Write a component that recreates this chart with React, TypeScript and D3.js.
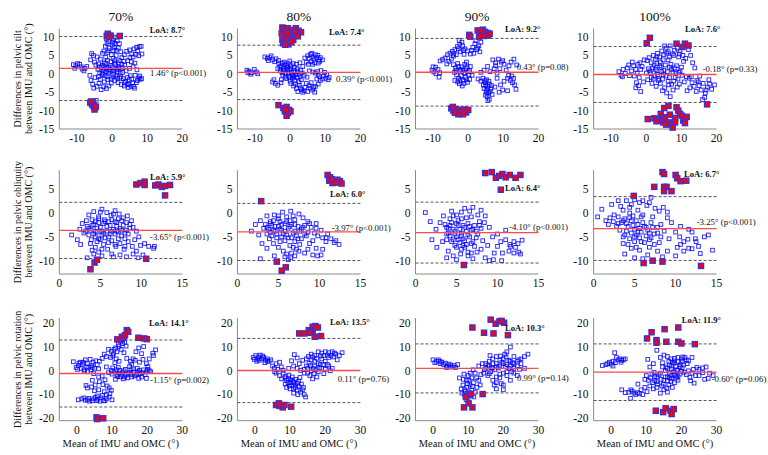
import React from 'react';
import * as d3 from 'd3';

// ---------- DATA ----------
const columnTitles = ['70%', '80%', '90%', '100%'];
const rowLabels = [
  ['Differences in pelvic tilt', 'between IMU and OMC (°)'],
  ['Differences in pelvic obliquity', 'between IMU and OMC (°)'],
  ['Differences in pelvic rotation', 'between IMU and OMC (°)'],
];
const xLabel = 'Mean of IMU and OMC (°)';
const xTicks = [[-10, 0, 10, 20], [0, 5, 10, 15], [0, 10, 20, 30]];
const yTicks = [[-15, -10, -5, 0, 5, 10], [-10, -5, 0, 5], [-20, -10, 0, 10, 20]];
const xDomains = [[-15, 20], [0, 15], [-5, 30]];
const yDomains = [[-15, 12.3], [-12.8, 9], [-21, 22.2]];
const meanBias = [[1.46, 0.39, 0.43, -0.18], [-3.65, -3.97, -4.10, -3.25], [-1.15, 0.11, 0.99, -0.60]];
const loaValues = [[8.7, 7.4, 9.2, 7.6], [5.9, 6.0, 6.4, 6.7], [14.1, 13.5, 10.3, 11.9]];
const pValues = [
  ['p<0.001', 'p<0.001', 'p=0.08', 'p=0.33'],
  ['p<0.001', 'p<0.001', 'p<0.001', 'p<0.001'],
  ['p=0.002', 'p=0.76', 'p=0.14', 'p=0.06'],
];

const tilt70 = [[-11,2.5],[-10.3,2.2],[-9.8,2.8],[-9.2,2.6],[-8.5,1.3],[-8,0.8],[-7.7,1.5],[-8.8,1.9],[-10.6,1.5],[-7.2,2.0],
[-5.8,5.5],[-5.3,5.0],[-4.2,4.6],[-3.3,4.0],[-5.0,3.2],[-2.7,5.6],[-4.6,2.4],[-3.8,2.7],[-6.1,3.8],[-2.2,3.0],[-1.8,4.5],
[-1.6,9.5],[-1.0,8.8],[-0.5,9.9],[0.3,9.2],[-1.9,7.5],[-0.8,7.0],[0.1,7.8],[0.8,8.3],[1.5,9.0],[-2.3,6.2],[-1.2,5.8],[0.5,6.3],[1.8,7.0],[-0.2,5.2],[1.2,5.0],[2.5,6.0],[-0.6,10.5],[0.9,10.0],[2.1,8.2],
[-4,1.2],[-3.5,0.3],[-3,1.8],[-2.5,0.8],[-2,-0.5],[-1.5,1.5],[-1,0.2],[-0.5,2.2],[0,1.0],[0.5,-0.3],[1,2.5],[1.5,0.6],[2,1.8],[2.5,-0.8],[3,0.4],[-1.8,2.8],[-0.3,3.3],[0.8,3.6],[1.8,3.0],[2.8,2.6],[-3.3,-1.5],[-2.2,-2.2],[-1.2,-1.6],[-0.2,-2.5],[0.8,-1.8],[1.7,-2.4],[-2.7,-0.2],[0.2,-0.9],[-0.8,1.1],[1.3,1.2],
[-6,-1.8],[-5.5,-2.8],[-4.8,-1.0],[-4.3,-3.4],[-3.7,-2.6],[-3.1,-4.3],[-2.4,-3.5],[-1.6,-4.0],[-5.2,-3.9],[-6.3,-0.4],[-0.9,-3.3],
[2.8,4.4],[3.5,5.2],[4.2,6.1],[5.0,6.5],[5.6,5.4],[6.3,6.8],[7.0,7.2],[7.8,7.4],[8.3,7.5],[6.8,5.3],[7.6,4.9],[8.5,5.4],[4.5,3.6],[5.5,3.3],[6.5,2.9],[3.6,2.4],[5.0,1.5],[6.0,2.0],[4.0,0.8],[3.2,-1.3],[3.8,-2.0],[4.3,-2.9],[4.9,-1.6],[5.4,-3.4],[5.9,-2.5],[6.4,-3.9],[4.6,-3.7],[3.5,-3.3],[2.6,-2.9],[5.2,-0.5],[2.2,-1.2],[7.2,-1.8],[7.6,-1.1],[8.0,-1.5],[8.4,-1.3],[7.9,-0.6],[6.6,-0.4],[7.1,1.1],[6.9,-2.4],
[-5.2,-7.5],[-4.5,-7.2],[-6.0,-8.0],[-4.8,-9.6],[-5.5,-9.0],
[-3.6,1.9],[-2.9,0.1],[-2.3,1.3],[-1.7,0.6],[-1.1,1.8],[-0.6,0.7],[0.1,1.7],[0.6,0.9],[1.1,-0.6],[1.7,1.5],[2.3,0.2],[-2.6,2.3],[-1.4,-0.8],[-0.3,-1.4],[0.7,2.9],[1.6,-1.2],[-3.9,-0.8],[-1.3,3.7],[0.3,4.2],[2.2,3.6],[-0.9,6.3],[0.6,7.2],[-1.4,8.2],[0.2,8.6],[1.2,6.4],[3.6,-2.4],[4.4,-1.0],[5.6,-1.4],[4.8,-2.9],[6.1,-3.4],[5.1,4.4],[6.0,4.6],[7.3,6.2],[2.9,1.6],[3.4,3.4]];
const tilt70Out = [[-1.2,10.9],[-1.5,10.3],[-0.4,10.4],[-0.9,10.0],[2.2,10.3],[-6.2,-7.8],[-5.7,-8.3],[-5.2,-8.7],[-4.8,-9.2],[-5.0,-9.7],[-5.9,-7.5],[-4.6,-8.9]];

const tilt80 = [[-12.3,1.0],[-11.7,0.7],[-11.0,0.3],[-10.2,1.2],[-9.6,0.5],[-11.2,-0.1],[-12.0,0.3],[-9.2,0.0],
[-7.2,4.6],[-6.5,4.2],[-5.8,4.4],[-5.0,3.8],[-4.4,3.3],[-6.2,3.6],[-5.4,4.9],[-4.0,4.1],[-3.3,3.6],
[-3.2,2.8],[-2.6,2.2],[-2.0,1.6],[-1.4,2.5],[-0.8,1.8],[-0.2,1.0],[0.4,0.4],[1.0,0.9],[1.6,-0.2],[2.2,0.6],[2.8,-0.8],[3.4,0.2],[4.0,-0.4],[-2.8,0.8],[-2.1,-0.4],[-1.2,0.3],[-0.4,-0.6],[0.6,-1.2],[1.3,-1.8],[2.0,-1.0],[-1.7,3.2],[-0.6,2.9],[0.3,2.2],[1.2,1.8],[-3.5,1.4],[-1.0,-1.3],[0.0,-2.0],[2.5,-2.2],[3.2,-1.6],[-2.5,-1.6],[1.8,2.6],[-0.1,3.5],[0.9,-0.5],[-1.9,0.9],
[4.2,4.3],[5.0,4.9],[5.8,5.3],[6.5,4.6],[7.2,5.2],[7.9,5.0],[8.6,4.4],[9.2,3.8],[6.0,3.3],[7.0,3.0],[8.0,2.9],[5.2,2.6],[6.8,4.0],[8.4,3.4],[4.6,3.2],[2.8,3.0],[3.6,2.0],
[6.4,0.5],[7.2,0.2],[8.0,-0.3],[8.8,0.9],[9.5,-0.6],[10.2,-1.2],[10.8,-1.6],[11.1,-1.0],[9.8,0.4],[5.5,0.8],[4.8,-0.9],[7.6,-1.4],[8.6,-1.8],[10.4,-0.2],
[0.2,-2.6],[1.0,-3.3],[1.8,-4.0],[2.6,-3.1],[3.3,-4.3],[4.2,-3.7],[5.0,-4.8],[5.7,-3.9],[6.4,-4.4],[7.2,-3.4],[8.0,-2.8],[4.6,-2.6],[6.0,-2.4],[3.6,-5.0],[2.2,-4.8],[7.0,-5.0],
[-5.0,-2.2],[-4.2,-2.6],[-3.5,-3.1],[-2.6,-2.4],[-4.6,-1.6],
[-2.9,1.9],[-2.3,0.3],[-1.6,1.1],[-1.0,2.3],[-0.5,0.2],[0.1,1.5],[0.7,-0.2],[1.4,0.5],[2.0,1.3],[2.6,-0.1],[3.0,1.0],[-0.2,-1.0],[1.1,-0.9],[-1.4,-0.9],[-0.7,1.2],[0.9,2.8],[-2.2,2.9],[5.4,4.2],[6.2,5.6],[7.6,4.4],[8.2,3.8],[6.4,2.6],[7.8,0.6],[8.4,-0.8],[9.2,-1.4],[1.5,-2.7],[2.9,-3.8],[4.0,-4.6],[5.4,-3.2],[6.7,-3.7]];
const tilt80Out = [[-2.2,12.6],[-1.6,12.0],[-0.7,12.4],[0.4,11.9],[1.6,12.4],[2.4,11.7],[3.1,11.3],[-2.4,11.0],[-1.5,10.6],[-0.6,11.2],[0.6,10.7],[1.4,11.3],[2.2,10.2],[-2.2,9.3],[-1.2,9.0],[0.1,9.7],[0.9,9.2],[-2.0,8.3],[-0.5,8.0],[0.3,8.6],[-1.4,7.9],
[-3.3,-8.5],[-1.9,-9.3],[-1.0,-9.0],[-0.3,-9.8],[-1.5,-10.2],[-0.6,-10.6],[-1.0,-11.4],[0.1,-10.2],[-1.3,-9.9]];

const tilt90 = [[-10.3,1.0],[-9.8,0.5],[-9.2,0.0],[-8.6,1.2],[-8.1,0.3],[-8.3,-0.9],[-9.3,1.8],[-10.0,1.9],
[-8.0,3.5],[-7.3,3.9],[-6.6,4.3],[-5.9,5.2],[-5.2,5.6],[-4.5,6.1],[-3.8,6.6],[-3.1,7.4],[-2.4,8.0],[-1.6,7.6],[-2.6,9.1],[-1.8,8.6],[-0.9,6.8],[-0.2,6.2],[0.6,5.4],[-3.4,5.2],[-4.8,4.0],[-6.1,2.7],[-5.5,3.4],[-2.2,6.0],[-1.2,5.3],[-4.2,4.8],
[-4.2,2.5],[-3.6,1.6],[-3.0,2.8],[-2.4,0.8],[-1.8,1.9],[-1.2,0.3],[-0.6,1.4],[0.0,0.6],[0.6,2.0],[1.1,-0.4],[-3.3,-0.3],[-2.7,-1.2],[-2.0,-0.5],[-1.4,-1.8],[-0.8,-1.0],[-0.2,-2.3],[0.4,-1.5],[-2.5,-2.7],[-1.7,-3.3],[-3.8,-1.8],[-0.5,3.2],[0.2,-0.2],[-1.0,2.6],[-3.9,0.4],
[1.3,7.2],[1.9,8.2],[2.4,6.6],[3.0,7.6],[3.6,8.6],[2.2,9.0],[3.3,6.0],[1.6,5.6],
[4.2,-1.2],[4.8,-2.4],[5.2,-1.6],[5.6,-3.4],[6.0,-2.8],[4.5,-4.0],[5.1,-4.6],[5.8,-5.2],[6.4,-4.1],[5.4,-6.2],[6.0,-6.9],[4.9,-5.8],[6.6,-3.2],[4.3,-3.0],[3.6,-2.0],[2.8,-1.4],[6.8,-5.6],[5.6,-7.3],
[4.5,1.0],[5.5,2.0],[6.2,0.6],[7.0,3.8],[7.8,3.0],[8.6,4.0],[9.4,3.2],[10.2,2.6],[7.4,1.4],[8.2,0.2],[9.0,1.4],[3.6,0.4],
[10.8,1.0],[11.5,-0.4],[12.0,-1.8],[12.6,-2.4],[13.2,-3.0],[13.6,-4.2],[12.9,-1.2],[11.2,-4.6],[10.2,-2.0],[9.2,-3.0],[8.2,-1.2],[12.2,3.2],[13.0,4.0],[13.8,2.4],[11.6,2.2],[9.8,-4.4],[8.8,-5.0],[7.6,-3.6],
[-3.4,1.0],[-2.8,2.0],[-2.1,1.2],[-1.5,0.9],[-0.9,0.2],[-0.3,1.9],[0.4,0.9],[-2.3,-1.8],[-1.2,-2.6],[-0.5,-1.6],[-3.0,-2.2],[5.0,-3.2],[5.5,-4.0],[4.7,-1.9],[6.2,-4.8],[5.3,-5.2],[5.9,-2.0],[-1.4,6.4],[-2.8,6.8],[-4.1,5.4],[1.0,6.4],[2.7,7.0],[7.8,2.2],[9.8,3.6],[11.2,-1.2],[12.4,-0.6]];
const tilt90Out = [[0.3,10.6],[0.6,10.1],[2.7,11.8],[3.4,11.1],[4.2,12.0],[4.8,11.4],[5.5,11.1],[3.1,10.1],[4.5,10.3],[5.7,10.4],[6.1,10.9],[3.8,11.6],
[-4.8,-9.4],[-4.2,-10.0],[-3.5,-9.6],[-3.0,-10.4],[-2.4,-9.8],[-1.8,-10.3],[-1.2,-9.7],[-0.6,-10.5],[0.0,-9.8],[-2.8,-11.0],[-1.5,-11.0],[-3.8,-10.6],[-4.4,-9.0]];

const tilt100 = [[-7.8,0.6],[-7.2,-0.4],[-6.6,1.2],[-6.0,0.1],[-5.4,1.6],[-4.8,-0.5],[-4.2,0.8],[-3.6,2.2],[-3.0,1.2],[-2.4,2.6],[-1.8,3.0],[-1.2,2.0],[-5.0,2.4],[-6.8,-0.8],[-3.4,-0.6],[-2.0,-1.0],[-2.8,-2.4],[-2.2,-3.2],[-1.6,-4.8],[-0.8,-2.2],[-4.0,3.2],[-0.6,3.8],[-3.0,-3.8],
[0.2,3.6],[0.8,4.4],[1.4,3.0],[2.0,5.0],[2.6,4.0],[3.2,5.6],[3.8,4.6],[4.4,6.2],[5.0,5.2],[5.6,7.0],[6.2,6.0],[6.8,7.6],[7.4,5.4],[8.0,6.4],[8.8,7.0],[9.6,6.2],[10.4,5.0],[11.2,4.2],[12.0,6.6],[12.6,5.0],[13.2,3.0],[13.8,1.6],[5.2,7.6],[9.2,4.6],[3.0,2.8],
[0.6,1.4],[1.2,0.2],[1.8,1.6],[2.4,-0.6],[3.0,0.8],[3.6,-1.4],[4.2,1.8],[4.8,-0.2],[5.4,2.4],[6.0,0.6],[6.6,-1.0],[7.2,1.2],[7.8,-2.0],[8.4,0.2],[9.0,-1.4],[9.6,0.8],[10.2,-0.4],[0.4,-1.6],[1.6,-2.6],[2.8,-3.4],[4.0,-2.6],[5.2,-3.8],[6.4,-3.0],[7.6,-4.4],[8.8,-3.6],[5.8,-5.2],[6.8,-6.2],[4.6,-4.6],[3.4,-1.8],[9.4,-2.8],[10.8,-2.2],[11.4,-0.8],[2.2,2.4],[4.0,3.2],[7.0,2.6],[8.6,2.2],[10.0,1.8],[6.2,3.8],
[12.2,-1.2],[13.0,-2.4],[13.6,-3.4],[14.4,-1.8],[15.0,-3.2],[15.6,-4.4],[16.2,-2.6],[16.8,-5.2],[17.4,-3.6],[18.0,-2.8],[18.6,-4.2],[19.4,-3.0],[16.0,-7.0],[16.6,-6.4],[15.2,-0.6],[17.8,-1.6],[14.2,-4.8],[12.4,-3.8],[11.6,-4.6],
[1.0,0.8],[2.0,-1.4],[3.2,-0.2],[4.4,0.6],[5.6,-0.6],[6.6,1.8],[7.6,0.4],[8.2,-1.0],[9.2,0.4],[3.8,2.2],[5.0,1.0],[6.2,-2.0],[7.2,-2.8],[8.0,1.6],[2.6,1.2],[4.6,-1.4],[1.4,-1.0],[3.0,4.6],[5.8,5.6],[7.8,5.0],[9.4,5.4],[4.8,3.8],[6.6,4.6],[10.6,3.4],[-1.6,1.2],[-2.6,0.2],[0.0,0.2],[12.8,-0.8],[14.8,-2.2],[17.0,-4.4]];
const tilt100Out = [[0.1,8.3],[1.0,9.8],[8.6,8.2],[10.3,7.3],[11.0,8.2],[12.0,7.7],
[0.4,-12.3],[2.3,-12.1],[3.7,-12.6],[4.1,-10.9],[4.8,-13.2],[5.3,-11.8],[5.1,-9.3],[6.3,-8.7],[6.7,-11.1],[6.5,-13.2],[7.2,-13.7],[7.5,-14.6],[8.2,-12.0],[8.6,-9.1],[9.1,-10.0],[9.6,-10.9],[10.1,-11.4],[10.5,-12.7],[11.0,-13.4],[11.5,-11.7],[8.2,-13.2],[5.6,-13.8],[2.9,-12.9],[17.3,-8.3]];

const obl70 = [[1.5,-4.6],[2.2,-5.6],[2.5,-3.4],[2.8,-2.2],[3.0,-4.2],[3.3,-1.6],[2.6,-6.6],
[3.6,-0.4],[4.2,0.3],[4.8,-0.8],[5.2,0.8],[5.8,0.1],[6.3,-0.5],[6.8,0.5],[7.3,-0.2],[7.8,-1.0],[8.3,-0.6],[5.5,-1.4],[4.4,-1.8],
[3.4,-2.8],[3.8,-3.6],[4.2,-2.4],[4.6,-4.0],[5.0,-3.0],[5.4,-2.2],[5.8,-3.8],[6.2,-2.6],[6.6,-3.4],[7.0,-2.0],[7.4,-3.2],[7.8,-2.6],[8.2,-3.6],[8.6,-2.4],[9.0,-3.0],[3.6,-4.6],[4.4,-5.0],[5.2,-4.6],[6.0,-5.0],[6.8,-4.4],[7.6,-4.8],[8.4,-4.4],[5.6,-1.8],[6.4,-1.4],[7.2,-1.2],[4.0,-1.4],[4.8,-2.0],[5.0,-5.6],[6.4,-5.8],[3.2,-3.8],[9.4,-3.8],[8.8,-1.6],[3.9,-5.6],[7.0,-3.8],
[3.8,-6.4],[4.4,-7.2],[4.8,-8.2],[5.4,-6.6],[5.9,-7.6],[6.4,-8.6],[6.9,-7.0],[7.4,-8.8],[7.9,-7.6],[8.4,-6.0],[8.9,-7.0],[9.4,-8.0],[9.9,-6.8],[10.4,-6.4],[10.9,-7.0],[11.5,-7.4],[11.6,-7.0],[3.4,-9.4],[4.2,-8.6],[5.2,-9.0],[6.6,-9.2],[8.2,-9.2],[9.6,-9.4],[10.2,-8.8],[6.0,-6.2],[7.4,-6.4],[9.2,-5.6],[9.7,-5.0],[8.0,-5.4],[4.6,-6.0],
[4.0,-2.6],[4.6,-3.2],[5.2,-3.8],[5.8,-2.8],[6.4,-3.8],[7.0,-2.8],[7.6,-3.6],[8.2,-2.0],[4.4,-3.8],[5.4,-4.2],[6.2,-4.4],[7.2,-4.0],[8.0,-4.2],[4.8,-1.2],[6.0,-1.8],[6.8,-1.8],[7.6,-1.6],[5.0,0.2],[6.6,-0.2],[4.2,-4.4],[3.6,-3.2],[8.6,-3.2],[5.6,-5.2],[7.2,-5.4],[4.8,-5.4],[6.8,-6.6],[8.0,-7.0],[5.2,-7.6],[9.0,-8.6],[4.0,-7.8]];
const obl70Out = [[9.4,6.0],[9.9,6.3],[10.4,6.6],[10.4,5.9],[11.7,5.8],[12.1,6.0],[12.5,5.5],[12.9,5.7],[13.5,5.9],[12.9,3.7],[3.8,-11.8],[4.3,-10.4],[4.6,-9.8],[10.6,-9.6]];

const obl80 = [[1.7,-3.8],[2.2,-2.4],[2.6,-4.6],[2.8,-1.6],[3.2,-3.2],[3.0,-6.4],[3.6,-0.6],[4.0,-1.8],[4.5,-0.4],[5.0,-1.2],[5.5,0.2],[6.0,-0.8],[6.5,0.4],[7.0,-1.4],[7.5,-0.2],[8.0,-1.0],[8.6,-1.8],[9.6,-2.2],[10.2,-3.6],
[3.4,-2.4],[3.8,-3.4],[4.2,-2.6],[4.6,-3.8],[5.0,-2.8],[5.4,-3.6],[5.8,-2.2],[6.2,-3.2],[6.6,-2.4],[7.0,-3.8],[7.4,-2.8],[7.8,-3.4],[8.2,-2.6],[8.6,-4.0],[9.0,-3.0],[3.6,-4.4],[4.2,-4.8],[4.8,-4.4],[5.4,-5.0],[6.0,-4.6],[6.6,-5.2],[7.2,-4.8],[7.8,-5.4],[8.4,-4.8],[4.4,-1.6],[5.2,-1.8],[6.4,-1.6],[9.4,-4.2],[3.9,-5.4],[5.8,-5.8],[7.0,-6.0],
[9.8,-4.8],[10.4,-5.2],[10.8,-6.0],[11.4,-5.4],[12.0,-5.8],[12.4,-6.6],[11.0,-4.4],[9.6,-7.4],[10.4,-7.6],[8.8,-6.4],[9.2,-5.8],
[4.4,-6.4],[5.0,-7.2],[5.6,-8.0],[6.0,-8.6],[6.5,-9.4],[7.0,-9.0],[7.5,-8.0],[6.2,-9.8],[4.5,-9.0],[2.8,-9.6],[8.2,-8.4],[8.6,-7.6],[9.2,-8.8],[9.8,-9.0],[10.2,-8.8],[6.8,-7.2],[5.2,-6.0],[7.6,-6.6],[3.6,-7.4],
[4.0,-2.2],[4.6,-2.8],[5.2,-3.4],[5.8,-3.8],[6.4,-2.8],[7.0,-2.4],[7.6,-3.8],[8.0,-3.0],[4.4,-3.6],[5.6,-4.4],[6.2,-5.2],[6.8,-4.2],[7.4,-5.4],[8.2,-4.4],[4.8,-5.2],[5.4,-2.4],[6.0,-1.8],[3.6,-3.0],[8.8,-2.2],[4.0,-4.0],[5.0,-0.6],[6.8,-0.6],[9.6,-3.2],[6.4,-6.8],[5.8,-9.2],[6.6,-8.4],[7.2,-7.6],[11.8,-6.2],[10.8,-5.2]];
const obl80Out = [[11.0,8.0],[11.3,7.5],[11.2,6.8],[11.6,6.3],[12.2,7.0],[12.5,6.7],[12.7,6.2],[11.5,7.1],[12.0,6.4],[2.9,2.5],[4.8,-10.2],[5.9,-11.4],[5.4,-12.1]];

const obl90 = [[1.2,0.1],[1.8,-1.8],[2.0,-5.6],[2.5,-3.4],[2.6,-7.2],[3.0,-2.0],[3.4,-0.6],[3.3,-6.0],[3.8,-4.4],
[4.4,0.4],[5.0,-0.4],[5.6,0.2],[6.0,1.0],[6.6,0.4],[7.0,1.2],[7.6,-0.4],[8.0,0.6],[8.5,-0.6],[4.2,-1.2],[6.2,-1.0],
[3.6,-2.4],[4.0,-3.2],[4.4,-2.0],[4.8,-3.8],[5.2,-2.6],[5.6,-4.2],[6.0,-3.0],[6.4,-2.2],[6.8,-3.6],[7.2,-2.6],[7.6,-4.4],[8.0,-3.2],[4.2,-4.8],[4.6,-5.6],[5.0,-5.0],[5.4,-6.2],[5.8,-5.4],[6.2,-6.6],[6.6,-5.0],[7.0,-6.0],[7.4,-5.2],[8.2,-5.8],[3.8,-5.6],[5.2,-1.6],[7.8,-1.8],[6.0,-7.2],[4.8,-6.8],[5.6,-7.6],[8.4,-2.0],
[4.0,-8.0],[4.6,-9.0],[5.0,-9.8],[5.5,-8.6],[6.4,-9.0],[7.0,-9.6],[7.5,-8.2],[8.0,-7.6],[8.5,-9.4],[9.0,-10.0],[9.5,-9.8],[10.5,-10.0],[6.8,-8.4],[3.8,-9.4],
[9.0,-3.0],[9.4,-5.0],[10.0,-7.0],[10.4,-6.0],[11.0,-5.6],[11.5,-6.6],[12.0,-6.0],[12.5,-6.4],[12.8,-8.6],[12.0,-8.4],[11.4,-8.0],[13.0,-5.7],[10.0,-4.4],[11.0,-3.6],[12.6,-8.2],[9.6,-8.4],[10.6,-8.4],[8.8,-6.8],
[4.2,-2.6],[4.6,-3.4],[5.0,-2.2],[5.4,-3.4],[5.8,-2.6],[6.2,-3.8],[6.6,-2.8],[7.0,-3.4],[4.8,-4.4],[5.2,-5.6],[5.6,-4.8],[6.0,-5.8],[6.4,-4.6],[6.8,-6.4],[4.4,-6.0],[5.0,-7.2],[5.8,-6.8],[4.0,-4.2],[7.4,-3.8],[3.8,-3.0],[4.6,-0.6],[5.6,-1.2],[6.8,-0.8],[7.8,-2.6],[6.4,-8.2],[7.2,-7.0],[11.6,-7.0],[12.2,-7.2]];
const obl90Out = [[8.5,8.4],[9.3,8.6],[9.8,7.4],[10.2,7.8],[10.6,8.2],[11.0,7.5],[11.5,8.0],[12.2,7.4],[12.8,8.0],[10.4,4.9],[5.9,-10.9]];

const obl100 = [[0.5,-0.8],[1.0,0.8],[1.5,-1.6],[1.8,-2.4],[2.2,1.8],[2.5,-0.4],[3.0,2.6],[2.8,-2.8],[2.0,-1.0],[3.3,1.4],
[4.0,2.6],[4.6,1.8],[5.0,2.8],[5.6,2.2],[6.0,2.6],[6.5,1.6],[7.0,3.3],[7.5,1.0],[8.0,0.4],[8.5,1.2],[9.0,0.2],[3.6,0.6],[4.4,0.0],[5.4,0.6],
[3.0,-0.8],[3.4,-2.0],[3.8,-1.2],[4.2,-2.8],[4.6,-1.6],[5.0,-3.4],[5.4,-2.4],[5.8,-4.0],[6.2,-2.8],[6.6,-3.6],[7.0,-2.0],[7.4,-4.4],[7.8,-3.0],[8.2,-5.0],[8.6,-3.8],[3.2,-3.6],[3.8,-4.6],[4.4,-5.4],[5.0,-6.0],[5.6,-5.2],[6.2,-6.2],[6.8,-5.6],[7.4,-6.6],[4.8,-0.6],[6.0,-0.4],[7.2,-0.8],[4.0,-3.8],[5.2,-4.6],[3.6,-6.4],[4.6,-7.4],[5.6,-7.8],[6.6,-8.8],[3.8,-8.6],[5.0,-9.4],[6.0,-9.6],[7.8,-8.0],[8.4,-9.2],
[9.0,-1.0],[9.5,-2.0],[10.0,-4.0],[10.5,-5.0],[11.0,-6.0],[11.5,-5.5],[12.0,-7.5],[12.5,-6.0],[13.0,-8.5],[13.5,-5.0],[14.0,-4.6],[14.5,-7.8],[12.0,-4.0],[11.0,-8.0],[10.0,-9.0],[9.0,-8.0],[9.2,-5.4],[8.0,-6.2],[10.6,-2.8],[11.6,-3.4],[12.8,-7.0],[11.6,-7.4],[10.2,-7.2],
[3.6,-1.6],[4.0,-2.2],[4.4,-1.0],[4.8,-2.6],[5.2,-1.6],[5.6,-3.2],[6.0,-2.0],[6.4,-3.0],[6.8,-4.2],[7.2,-3.0],[4.6,-4.2],[5.0,-5.0],[5.4,-4.0],[5.8,-6.0],[6.4,-4.8],[7.0,-5.2],[7.8,-4.2],[3.6,-5.0],[4.2,-6.6],[5.2,-7.2],[6.8,-7.2],[8.2,-2.4],[5.8,-0.8],[4.4,1.2],[6.8,2.2],[3.0,-2.2],[2.4,-1.8],[10.6,-6.6],[12.4,-5.4]];
const obl100Out = [[8.4,8.6],[8.6,8.2],[10.0,8.0],[10.2,7.3],[10.6,6.7],[11.3,6.8],[8.6,5.5],[7.4,5.5],[8.9,5.5],[8.6,4.6],[9.5,4.6],[4.9,3.6],[6.1,-10.5],[7.2,-10.0],[8.4,-10.2],[13.1,-11.1]];

const rot70 = [[-1.0,3.8],[-0.2,1.4],[0.2,0.6],[0.6,3.2],[1.0,3.6],[1.6,2.8],[2.0,0.4],[2.4,4.6],[3.0,3.0],[3.4,1.6],[3.8,4.8],[4.2,2.2],[4.6,3.6],[5.0,1.0],[5.4,4.2],[5.8,2.6],[3.0,-0.4],[4.0,0.4],[1.2,1.0],[2.2,-0.2],[6.2,0.8],[4.8,-1.2],
[0.4,-12.2],[1.4,-11.8],[2.4,-12.4],[3.4,-11.6],[4.4,-12.6],[5.2,-11.2],[6.0,-12.0],[6.8,-11.4],[7.6,-12.6],[8.4,-11.8],[9.2,-11.0],[10.0,-12.2],[5.8,-10.6],[7.2,-10.4],[8.4,-10.0],[9.4,-9.6],[9.8,-8.2],[9.2,-7.2],[8.6,-6.4],[7.4,-5.8],[6.4,-4.6],[5.2,-6.0],[4.2,-6.8],[3.0,-7.2],[2.6,-6.2],[6.2,-2.6],[7.2,-2.2],[8.0,-3.8],[5.0,-8.4],[6.2,-8.0],[4.4,-4.0],[7.8,-8.8],[3.6,-12.8],
[9.0,-0.8],[9.8,0.2],[10.6,-0.4],[11.4,-1.6],[12.2,0.2],[13.0,-0.8],[13.8,0.6],[14.6,-1.2],[15.4,0.4],[16.2,-0.6],[17.0,-1.4],[17.8,0.2],[18.6,-0.8],[19.4,-1.6],[20.2,0.6],[21.0,-0.4],[10.2,1.2],[12.4,-2.6],[14.4,-3.0],[16.4,-2.2],[18.4,-2.6],[19.8,-3.2],[11.0,-3.6],[13.2,-3.4],[15.6,-2.6],[17.6,-3.2],[8.4,1.6],[11.8,1.4],[15.0,1.8],[17.2,1.0],[20.6,0.0],[12.8,-1.8],
[9.0,9.0],[9.8,8.2],[10.4,7.0],[11.0,9.6],[11.8,11.0],[12.4,12.4],[13.0,11.4],[13.6,12.0],[14.0,10.4],[9.6,5.6],[10.2,6.2],[11.2,5.0],[7.8,7.0],[8.4,6.0],[12.6,9.0],[13.4,7.6],[14.2,5.2],[12.0,4.0],[10.8,3.4],[7.2,5.2],[6.4,4.0],
[15.2,4.0],[16.0,5.0],[16.8,8.0],[17.6,9.6],[18.4,7.2],[19.0,10.2],[19.8,3.0],[20.6,5.0],[21.6,7.4],[22.4,8.8],[21.8,6.4],[16.6,4.4],[17.8,3.6],[18.8,4.8],[15.6,2.8],[20.2,1.8],
[10.0,-1.4],[11.2,0.4],[12.0,-1.0],[13.4,0.0],[14.0,-1.8],[15.0,-0.6],[16.0,0.8],[16.8,-1.8],[18.0,-1.2],[19.0,0.4],[19.8,-0.4],[13.6,-2.6],[15.4,-1.6],[17.4,-0.4],[11.6,-2.4],[2.0,-11.4],[3.0,-12.2],[5.6,-12.6],[6.6,-12.8],[8.0,-12.6],[4.8,-11.8],[12.0,10.2],[13.0,13.0],[11.4,8.0],[10.6,9.0],[1.8,3.6],[2.8,1.6],[4.4,1.4],[0.4,2.2]];
const rot70Out = [[11.5,13.2],[12.8,14.3],[13.4,14.0],[14.2,17.1],[14.6,16.4],[13.7,15.0],[17.5,13.9],[19.1,13.6],[19.9,13.3],[5.6,-19.6],[5.8,-20.3],[7.5,-20.0]];

const rot80 = [[-0.5,5.6],[0.2,6.4],[1.0,5.8],[1.5,6.6],[2.0,5.0],[2.5,5.6],[3.0,4.4],[3.5,5.0],[4.0,4.0],[4.5,4.6],[1.2,4.4],[0.5,4.0],[2.8,3.4],[-0.2,4.8],
[5.0,2.0],[5.5,1.0],[6.0,-1.0],[6.5,0.6],[7.0,-2.0],[7.5,1.6],[6.0,3.0],[7.0,3.6],[5.6,-0.4],[8.0,0.2],
[8.0,-1.0],[8.5,-3.0],[9.0,-4.0],[9.5,-3.4],[10.0,-5.0],[10.5,-6.0],[11.0,-5.0],[11.5,-7.0],[12.0,-8.0],[12.5,-6.6],[13.0,-9.0],[13.5,-8.0],[14.0,-10.0],[14.4,-11.0],[9.0,-7.0],[10.0,-7.6],[8.6,-5.6],[11.0,-9.4],[12.2,-10.0],[9.6,-1.8],[10.6,-2.6],[11.6,-3.6],[12.4,-4.4],[13.2,-5.6],[7.6,-3.4],[12.8,-2.8],
[14.6,5.0],[15.2,6.0],[16.0,7.0],[17.0,6.4],[18.0,8.0],[19.0,7.4],[20.0,8.0],[21.0,7.6],[22.0,8.0],[23.0,7.0],[24.0,6.4],[24.8,7.6],[19.0,5.0],[20.0,4.0],[21.0,5.6],[17.0,4.0],[18.0,3.0],[16.0,4.6],[22.4,5.8],[23.4,4.6],[15.4,3.2],[13.6,4.4],[12.0,5.4],[11.2,6.8],[10.4,4.2],[12.6,3.0],
[15.0,1.0],[16.0,0.0],[17.0,2.0],[18.0,-0.4],[19.0,1.0],[20.0,0.6],[21.0,2.0],[22.0,1.0],[15.6,-2.0],[17.6,-2.6],[14.0,-1.0],[16.4,-3.4],[13.0,0.2],[12.0,1.0],[11.0,2.0],[19.6,-1.2],[21.4,0.0],[18.6,2.6],[14.6,2.0],[9.6,1.0],
[9.4,-5.0],[10.2,-3.8],[10.8,-4.4],[11.4,-6.0],[12.0,-5.2],[8.8,-2.4],[9.8,-6.4],[11.0,-7.6],[13.8,-7.0],[15.8,2.2],[16.6,1.0],[17.4,0.4],[18.4,1.2],[19.4,2.6],[20.6,2.6],[17.6,5.2],[18.6,6.2],[19.6,6.4],[20.6,6.6],[21.6,6.4],[16.4,5.8],[22.6,7.4],[14.0,0.6],[15.0,-1.0],[16.8,-1.2],[0.8,5.0],[2.2,6.2],[3.6,4.0]];
const rot80Out = [[12.6,15.7],[14.1,15.7],[15.3,17.1],[16.4,18.5],[17.2,18.8],[17.9,18.2],[16.4,16.4],[17.0,14.3],[18.8,14.6],[15.7,16.0],[6.0,-14.4],[7.0,-14.8],[7.9,-15.4],[8.4,-14.4],[10.3,-15.1],[6.8,-13.7]];

const rot90 = [[0.0,4.6],[0.5,3.4],[1.0,4.0],[1.5,4.6],[2.0,3.0],[2.5,3.6],[3.0,2.6],[3.5,3.2],[4.0,2.0],[4.5,2.8],[5.0,2.4],[5.5,1.6],[6.0,2.2],[7.0,2.6],[3.8,1.4],
[7.5,-3.0],[8.0,-7.6],[8.5,-6.0],[9.0,-8.0],[9.5,-4.0],[10.0,-2.0],[10.5,-6.0],[11.0,-3.0],[11.0,-8.2],[11.5,-5.0],[12.0,-1.0],[12.0,-9.0],[9.0,-10.0],[10.0,-11.2],[12.5,-7.0],[13.0,-4.0],[8.6,-3.6],[9.8,-5.4],[10.4,-9.2],[11.6,-11.0],[8.2,-9.4],[9.4,-12.2],[12.4,-3.0],[10.6,-1.0],[11.4,0.4],[13.4,-6.0],[8.8,-1.4],
[13.0,2.0],[14.0,3.0],[15.0,1.0],[16.0,4.0],[17.0,5.0],[18.0,3.0],[19.0,2.0],[20.0,5.0],[21.0,8.0],[22.0,10.0],[23.0,6.0],[24.0,4.0],[25.0,5.0],[26.0,6.0],[27.0,7.0],[22.0,2.0],[23.0,1.0],[24.0,2.0],[25.0,3.0],[26.0,1.0],[14.6,0.4],[15.6,2.4],[16.6,1.2],[17.6,0.4],[18.6,1.2],[19.6,3.6],[20.6,1.8],[21.6,4.4],[19.2,6.2],[20.4,7.0],[18.0,6.0],[16.2,6.4],[21.0,-0.4],[22.6,3.4],[24.6,0.6],
[17.0,-4.0],[18.0,-5.0],[19.0,-3.0],[20.0,-6.0],[21.0,-2.0],[22.0,-4.0],[18.0,-7.6],[20.0,-8.0],[23.0,-1.0],[24.0,-2.0],[17.4,-6.0],[19.4,-5.4],[15.6,-2.0],[14.4,-1.0],[16.4,-0.4],[13.6,-1.6],[22.4,-0.4],
[15.0,3.0],[16.0,2.0],[17.0,3.0],[18.0,1.8],[19.0,4.4],[20.0,3.0],[21.0,2.6],[22.0,4.0],[23.0,3.0],[20.0,-1.0],[19.0,-1.4],[18.0,-2.6],[21.6,1.0],[17.0,1.2],[16.0,-1.2],[20.8,5.8],[24.4,4.6],[9.6,-7.0],[10.2,-4.0],[11.2,-6.6],[10.8,-10.4],[9.2,-8.8],[2.0,4.0],[4.6,1.6],[6.4,1.4]];
const rot90Out = [[11.2,18.2],[16.4,21.5],[17.8,19.8],[18.9,20.8],[20.2,20.2],[19.5,21.0],[17.2,15.7],[14.5,16.0],[21.3,15.0],[9.3,-10.9],[10.8,-9.8],[10.1,-13.7],[8.8,-15.4],[11.2,-15.4],[14.1,-9.8]];

const rot100 = [[-2.5,2.2],[-1.0,3.0],[-0.5,3.6],[0.0,2.8],[0.5,4.0],[1.0,7.6],[1.5,5.6],[2.0,4.6],[2.5,5.0],[3.0,4.4],[3.5,4.6],[4.0,5.0],[-1.5,2.6],[0.5,2.0],[1.2,3.4],[2.8,3.6],
[3.0,-8.0],[5.0,-9.0],[5.5,-11.6],[6.5,-9.4],[7.0,-10.0],[7.5,-9.2],[8.0,-9.6],[8.5,-8.0],[9.0,-10.0],[4.0,-9.2],[6.0,-8.6],[9.6,-7.0],[7.6,-5.6],[5.6,-8.0],
[10.0,-2.0],[10.6,-4.0],[11.2,-3.0],[11.8,-5.0],[12.4,-2.4],[13.0,-4.6],[13.6,-1.6],[14.2,-3.6],[14.8,-5.6],[15.4,-2.6],[16.0,-4.2],[16.6,-1.0],[17.2,-3.2],[17.8,-0.4],[18.4,-2.0],[19.0,0.2],[19.6,-1.4],[20.2,1.2],[20.8,-0.6],[16.0,1.0],[16.6,2.4],[17.2,0.8],[17.8,3.2],[18.4,1.8],[19.0,3.8],[19.6,2.6],[20.2,4.0],[15.4,0.0],[14.6,1.6],[18.0,-5.0],[19.0,-4.0],[16.4,-6.0],[17.4,-7.0],[15.0,-8.0],[14.0,-9.4],[13.0,-7.0],[12.0,-7.6],[11.0,-6.4],[10.2,-8.8],[9.6,-3.6],[12.2,-0.6],[21.4,-1.6],[18.6,-3.0],[17.0,-2.0],[16.0,-9.0],
[10.4,4.8],[13.0,8.6],[14.0,5.6],[15.0,6.6],[16.0,6.0],[17.0,5.0],[18.0,4.2],[19.0,5.6],[20.0,5.0],[21.0,5.6],[22.0,4.2],[23.0,5.6],[12.0,3.0],[14.6,3.4],[16.4,4.0],[21.6,3.0],[11.0,1.6],
[22.0,0.0],[23.0,-1.0],[24.0,-2.0],[25.0,0.6],[26.0,1.2],[27.0,1.6],[28.0,-1.0],[29.0,-2.0],[27.6,-3.2],[26.6,-3.6],[25.0,-2.0],[22.6,-4.2],[23.6,-5.2],[24.4,1.4],[22.4,-2.8],
[13.0,-2.6],[14.0,-1.0],[15.0,-4.0],[16.0,-2.6],[17.0,-4.4],[18.0,-1.4],[19.0,-2.2],[20.0,-0.2],[15.6,1.6],[17.2,2.0],[18.6,0.4],[19.6,1.8],[20.6,2.4],[16.6,-3.0],[14.4,-6.4],[13.2,-5.6],[12.4,-4.2],[11.6,-1.4],[15.8,-7.2],[18.0,5.2],[20.4,5.8],[17.4,3.6],[21.4,4.6],[26.0,-0.8],[23.4,0.6]];
const rot100Out = [[10.2,13.6],[11.5,16.2],[12.9,12.9],[12.9,11.8],[15.2,17.5],[15.7,12.2],[19.1,18.2],[19.1,12.2],[20.0,11.5],[23.8,11.2],[12.7,-16.8],[14.8,-17.4],[15.5,-15.8],[16.9,-16.8],[17.2,-18.2],[17.8,-16.1]];

const bluePoints = [[tilt70, tilt80, tilt90, tilt100], [obl70, obl80, obl90, obl100], [rot70, rot80, rot90, rot100]];
const redPoints = [[tilt70Out, tilt80Out, tilt90Out, tilt100Out], [obl70Out, obl80Out, obl90Out, obl100Out], [rot70Out, rot80Out, rot90Out, rot100Out]];

// ---------- LAYOUT ----------
const COL_X0 = [59.3, 237.4, 415.5, 593.6];
const PW = 123;
const ROW_RANGE = [[129, 28.6], [274, 170.2], [420.7, 318]];
const LOA_POS = [[[90.5, 30], [91.6, 31.7], [89.5, 29.3], [91.4, 29.3]],
  [[90.7, 176.7], [92.6, 194], [89.5, 188.3], [90.4, 174]],
  [[89.7, 323.3], [92.6, 321.7], [89.5, 328.3], [88.1, 320]]];
const MEAN_POS = [[[90.7, 73], [98.6, 79], [101.2, 66.7], [109.1, 69.3]],
  [[90.7, 237.3], [94.3, 228.3], [93.5, 226.7], [103.1, 221.7]],
  [[90.7, 380], [100.3, 379.3], [101.5, 378.3], [118.1, 379.3]]];

const FONT = '"Liberation Serif", "Times New Roman", serif';

function Panel({ r, c }: { r: number; c: number }) {
  const x0 = COL_X0[c];
  const [yb, yt] = ROW_RANGE[r];
  const xs = d3.scaleLinear().domain(xDomains[r]).range([x0, x0 + PW]);
  const ys = d3.scaleLinear().domain(yDomains[r]).range([yb, yt]);
  const m = meanBias[r][c];
  const loa = loaValues[r][c];
  const bs = 3.7;
  const rs = 5.2;
  return (
    <g>
      <line x1={x0} x2={x0} y1={yt} y2={yb} stroke="#8a8a8a" strokeWidth={1} />
      <line x1={x0} x2={x0 + PW} y1={yb} y2={yb} stroke="#8a8a8a" strokeWidth={1} />
      {yTicks[r].map((t) => (
        <text key={'y' + t} x={x0 - 5} y={ys(t) + 3.9} textAnchor="end" fontSize={11.5} fontFamily={FONT} fill="#111">{String(t)}</text>
      ))}
      {xTicks[r].map((t) => (
        <text key={'x' + t} x={xs(t)} y={yb + 13.3} textAnchor="middle" fontSize={11.5} fontFamily={FONT} fill="#111">{String(t)}</text>
      ))}
      {bluePoints[r][c].map((p, i) => (
        <rect key={'b' + i} x={xs(p[0]) - bs / 2} y={ys(p[1]) - bs / 2} width={bs} height={bs}
          fill="none" stroke="#0000ff" strokeOpacity={0.8} strokeWidth={1} />
      ))}
      <line x1={x0} x2={x0 + PW} y1={ys(m + loa)} y2={ys(m + loa)} stroke="#555" strokeWidth={1} strokeDasharray="3,2" />
      <line x1={x0} x2={x0 + PW} y1={ys(m - loa)} y2={ys(m - loa)} stroke="#555" strokeWidth={1} strokeDasharray="3,2" />
      <line x1={x0} x2={x0 + PW} y1={ys(m)} y2={ys(m)} stroke="#ff4a4a" strokeWidth={1.3} />
      {redPoints[r][c].map((p, i) => (
        <rect key={'r' + i} x={xs(p[0]) - rs / 2} y={ys(p[1]) - rs / 2} width={rs} height={rs}
          fill="#ff0000" stroke="#3b2fd6" strokeWidth={1.3} />
      ))}
      <text x={x0 + LOA_POS[r][c][0]} y={LOA_POS[r][c][1] + 3} fontSize={8.6} fontWeight="bold" fontFamily={FONT} fill="#111">
        {`LoA: ${loa.toFixed(1)}°`}
      </text>
      <text x={x0 + MEAN_POS[r][c][0]} y={MEAN_POS[r][c][1] + 3} fontSize={8.8} fontFamily={FONT} fill="#111">
        {`${m.toFixed(2)}° (${pValues[r][c]})`}
      </text>
      {r === 0 && (
        <text x={x0 + PW / 2} y={21} textAnchor="middle" fontSize={13.5} fontFamily={FONT} fill="#111">{columnTitles[c]}</text>
      )}
      {r === 2 && (
        <text x={x0 + PW / 2} y={446.5} textAnchor="middle" fontSize={10.5} fontFamily={FONT} fill="#111">{xLabel}</text>
      )}
    </g>
  );
}

export default function App() {
  const rows = [0, 1, 2];
  const cols = [0, 1, 2, 3];
  return (
    <svg width={768} height={455} style={{ position: 'absolute', left: 0, top: 0, background: '#fff' }}>
      <rect x={0} y={0} width={768} height={455} fill="#fff" />
      {rows.map((r) => {
        const cy = (ROW_RANGE[r][0] + ROW_RANGE[r][1]) / 2;
        return (
          <g key={'lab' + r}>
            <text transform={`translate(20.5,${cy}) rotate(-90)`} textAnchor="middle" fontSize={10} fontFamily={FONT} fill="#111">{rowLabels[r][0]}</text>
            <text transform={`translate(31.5,${cy}) rotate(-90)`} textAnchor="middle" fontSize={10} fontFamily={FONT} fill="#111">{rowLabels[r][1]}</text>
          </g>
        );
      })}
      {rows.map((r) => cols.map((c) => <Panel key={`${r}-${c}`} r={r} c={c} />))}
    </svg>
  );
}
